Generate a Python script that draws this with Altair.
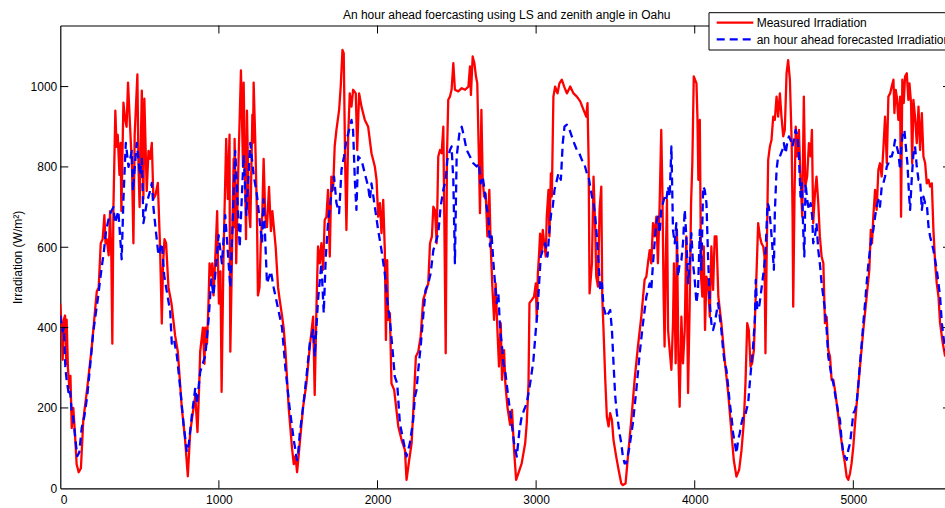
import altair as alt
import pandas as pd

FONT = "Liberation Sans"

chart_title = "An hour ahead foercasting using LS and zenith angle in Oahu"
y_title = "Irradiation (W/m\u00b2)"
legend_labels = ["Measured Irradiation", "an hour ahead forecasted Irradiation"]

x_ticks = [0, 1000, 2000, 3000, 4000, 5000]
y_ticks = [0, 200, 400, 600, 800, 1000]

# measured irradiation (sample index, W/m^2)
measured_x = [
    0, 8, 15, 22, 30, 38, 40, 48, 57, 64, 72, 82, 92, 103, 116, 130, 145, 170, 198, 230,
    242, 255, 267, 278, 285, 293, 305, 314, 322, 328, 335, 347, 355, 362, 373, 380, 385, 398, 408, 418,
    427, 440, 452, 461, 469, 486, 493, 500, 514, 524, 530, 545, 556, 566, 577, 587, 600, 615, 629, 636,
    640, 648, 657, 667, 682, 701, 724, 741, 766, 785, 804, 819, 840, 851, 865, 876, 882, 899, 909, 914,
    925, 935, 941, 948, 958, 966, 979, 989, 994, 1000, 1010, 1017, 1029, 1046, 1056, 1067, 1069, 1072, 1093, 1096,
    1099, 1104, 1109, 1120, 1139, 1152, 1156, 1171, 1177, 1188, 1198, 1211, 1215, 1219, 1229, 1240, 1246, 1256, 1265, 1274,
    1282, 1292, 1303, 1316, 1328, 1337, 1358, 1373, 1383, 1398, 1408, 1420, 1440, 1461, 1472, 1482, 1493, 1507,
    1531, 1552, 1573, 1594, 1604, 1615, 1625, 1636, 1646, 1657, 1667, 1678, 1688, 1699, 1709, 1720, 1730, 1741, 1758, 1768,
    1779, 1787, 1796, 1804, 1815, 1825, 1836, 1846, 1863, 1872, 1884, 1899, 1920, 1941, 1962, 1983, 1994, 2004, 2015, 2025,
    2036, 2046, 2053, 2061, 2067, 2078, 2088, 2105, 2131, 2152, 2173, 2183, 2200, 2215, 2229, 2242, 2257, 2272, 2288, 2301,
    2320, 2331, 2343, 2352, 2362, 2373, 2383, 2394, 2404, 2415, 2421, 2430, 2438, 2446, 2457, 2467, 2478, 2488, 2509, 2531,
    2552, 2573, 2583, 2589, 2600, 2611, 2621, 2629, 2640, 2646, 2655, 2663, 2672, 2682, 2693, 2705, 2714, 2724, 2735, 2745,
    2756, 2766, 2777, 2785, 2798, 2806, 2819, 2836, 2848, 2861, 2874, 2888, 2909, 2931, 2941, 2952, 2958, 2973, 2987, 2998,
    3004, 3011, 3019, 3025, 3034, 3042, 3053, 3061, 3067, 3078, 3084, 3093, 3099, 3109, 3120, 3135, 3147, 3162, 3177, 3194,
    3215, 3236, 3257, 3278, 3299, 3316, 3324, 3331, 3337, 3352, 3362, 3373, 3379, 3390, 3400, 3411, 3417, 3425, 3436, 3446,
    3457, 3467, 3478, 3488, 3505, 3520, 3537, 3547, 3564, 3579, 3600, 3621, 3642, 3663, 3684, 3695, 3705, 3716, 3726, 3737,
    3747, 3758, 3768, 3779, 3789, 3796, 3804, 3810, 3817, 3825, 3832, 3842, 3853, 3863, 3869, 3880, 3888, 3897, 3905, 3916,
    3926, 3937, 3947, 3958, 3968, 3977, 3985, 3994, 4002, 4011, 4017, 4023, 4032, 4040, 4048, 4057, 4065, 4074, 4084, 4095,
    4105, 4116, 4126, 4137, 4149, 4168, 4189, 4211, 4232, 4246, 4263, 4280, 4295, 4309, 4320, 4331, 4341, 4352, 4362, 4373,
    4381, 4389, 4400, 4411, 4421, 4432, 4440, 4446, 4453, 4459, 4463, 4474, 4484, 4495, 4505, 4516, 4526, 4537, 4547, 4558,
    4568, 4579, 4589, 4600, 4611, 4617, 4621, 4629, 4637, 4646, 4657, 4667, 4678, 4688, 4697, 4709, 4720, 4731, 4739, 4747,
    4758, 4768, 4779, 4789, 4800, 4811, 4821, 4832, 4842, 4853, 4863, 4874, 4884, 4895, 4916, 4933, 4947, 4958, 4968, 4979,
    4989, 5000, 5011, 5025, 5042, 5063, 5084, 5101, 5110, 5118, 5126, 5137, 5147, 5158, 5168, 5179, 5189, 5200, 5211, 5221,
    5232, 5242, 5253, 5259, 5267, 5274, 5284, 5295, 5301, 5309, 5318, 5326, 5337, 5347, 5354, 5364, 5371, 5379, 5389, 5400,
    5411, 5421, 5432, 5442, 5453, 5463, 5474, 5484, 5495, 5505, 5516, 5526, 5537, 5547, 5564, 5579,
]
measured_y = [
    460, 400, 320, 420, 430, 310, 420, 300, 250, 280, 150, 200, 140, 60, 40, 50, 170, 250, 350, 490,
    500, 610, 620, 680, 610, 620, 580, 690, 570, 360, 700, 940, 850, 880, 780, 860, 690, 960, 920, 900,
    1010, 900, 800, 610, 880, 1030, 800, 700, 990, 720, 970, 740, 840, 820, 860, 720, 730, 760, 600, 480,
    410, 560, 620, 610, 500, 460, 380, 340, 200, 130, 30, 140, 200, 230, 140, 260, 340, 400, 310, 400,
    360, 470, 560, 530, 560, 480, 590, 690, 570, 460, 540, 240, 580, 870, 720, 880, 580, 340, 820, 650,
    870, 760, 560, 760, 1040, 800, 1010, 620, 940, 700, 650, 930, 860, 1010, 870, 680, 480, 500, 620, 690,
    820, 680, 650, 750, 640, 690, 600, 500, 470, 430, 400, 340, 200, 100, 60, 80, 40, 100,
    203, 261, 353, 427, 232, 452, 602, 560, 610, 544, 668, 676, 743, 577, 776, 743, 851, 892, 942, 1000,
    1091, 1083, 809, 643, 876, 983, 950, 992, 983, 842, 983, 950, 917, 900, 834, 801, 768, 676, 710, 635,
    718, 593, 369, 568, 419, 436, 261, 245, 154, 120, 95, 21, 71, 112, 220, 328, 340, 378, 469, 486,
    510, 610, 627, 701, 693, 610, 826, 842, 834, 900, 676, 336, 826, 967, 975, 992, 1058, 992, 988, 996,
    992, 1000, 1050, 979, 1075, 1058, 1025, 1008, 809, 685, 942, 768, 726, 734, 627, 743, 602, 502, 419, 510,
    394, 303, 411, 270, 344, 261, 203, 158, 195, 95, 21, 37, 62, 112, 162, 261, 461, 469, 477, 510,
    419, 535, 585, 634, 585, 643, 602, 577, 676, 743, 627, 784, 726, 975, 1000, 983, 1008, 1017, 1000, 983,
    1000, 983, 975, 963, 942, 925, 959, 817, 485, 560, 776, 643, 527, 502, 693, 751, 477, 394, 270, 178,
    154, 187, 170, 120, 79, 46, 12, 8, 12, 79, 170, 270, 353, 427, 519, 527, 560, 593, 560, 660,
    627, 676, 560, 710, 892, 743, 477, 353, 560, 718, 394, 344, 295, 411, 560, 311, 643, 328, 203, 427,
    311, 394, 627, 237, 452, 710, 809, 1025, 1017, 1008, 925, 768, 917, 527, 477, 602, 394, 527, 510, 427,
    602, 494, 627, 627, 477, 411, 319, 237, 137, 71, 29, 46, 95, 162, 261, 411, 394, 303, 311, 344,
    436, 527, 660, 627, 610, 602, 577, 336, 560, 710, 817, 851, 867, 925, 917, 975, 925, 983, 925, 876,
    892, 1033, 1066, 1017, 867, 676, 452, 726, 900, 826, 892, 768, 676, 975, 751, 776, 859, 826, 892, 660,
    734, 776, 710, 627, 577, 560, 411, 427, 344, 328, 270, 270, 245, 212, 145, 95, 62, 29, 21, 37,
    62, 104, 162, 228, 303, 394, 477, 544, 643, 610, 676, 743, 693, 793, 809, 776, 842, 925, 809, 975,
    983, 1000, 1017, 934, 992, 975, 917, 975, 676, 1017, 959, 1025, 1033, 967, 1008, 959, 809, 967, 925, 859,
    950, 842, 934, 826, 809, 759, 768, 751, 759, 643, 560, 510, 477, 411, 361, 328,
]

# an hour ahead forecast (sample index, W/m^2)
forecast_x = [
    0, 15, 22, 32, 40, 55, 62, 72, 80, 93, 107, 120, 135, 152, 170, 187, 208, 236, 261, 275,
    288, 310, 335, 345, 366, 387, 398, 413, 430, 451, 458, 482, 503, 514, 524, 545, 566, 577, 587, 608,
    619, 640, 655, 667, 693, 703, 717, 735, 756, 777, 798, 810, 829, 851, 861, 882, 914, 935, 952, 966,
    998, 1019, 1040, 1072, 1103, 1131, 1156, 1173, 1198, 1219, 1240, 1272, 1282, 1303, 1328, 1345, 1377, 1398, 1419, 1446,
    1472, 1493, 1500,
    1510, 1531, 1552, 1573, 1594, 1604, 1625, 1646, 1661, 1674, 1688, 1709, 1726, 1741, 1758, 1773, 1789, 1804, 1821, 1836,
    1846, 1857, 1867, 1878, 1899, 1920, 1941, 1952, 1962, 1983, 2004, 2025, 2046, 2061, 2078, 2095, 2109, 2124, 2141, 2162,
    2183, 2204, 2225, 2236, 2246, 2257, 2272, 2288, 2303, 2320, 2335, 2352, 2366, 2383, 2398, 2415, 2430, 2440, 2457, 2467,
    2478, 2488, 2499, 2516, 2531, 2545, 2562, 2583, 2604, 2625, 2640, 2650, 2663, 2672, 2684, 2699, 2709, 2720, 2731, 2741,
    2752, 2762, 2773, 2783, 2794, 2804, 2819, 2832, 2846, 2861, 2878, 2895, 2909, 2924, 2941, 2952, 2966, 2983, 2998, 3008,
    3019, 3029, 3042, 3057, 3072, 3084, 3095, 3105, 3116, 3126, 3141, 3156, 3168, 3179, 3194, 3211, 3225, 3240, 3257, 3272,
    3289, 3303, 3320, 3331, 3341, 3352, 3362, 3373, 3383, 3394, 3404, 3415, 3425, 3442, 3457, 3467, 3478, 3488, 3499, 3509,
    3526, 3537, 3547, 3558, 3568, 3589, 3610, 3632, 3653, 3674, 3695, 3716, 3726, 3737, 3747, 3758, 3768, 3779, 3789, 3800,
    3811, 3821, 3832, 3842, 3853, 3863, 3874, 3884, 3895, 3905, 3916, 3926, 3937, 3947, 3958, 3968, 3979, 3989, 4000, 4011,
    4021, 4032, 4042, 4053, 4063, 4074, 4084, 4095, 4105, 4116, 4126, 4137, 4147, 4158, 4168, 4179, 4189, 4200, 4211, 4221,
    4232, 4242, 4253, 4263, 4274, 4284, 4295, 4305, 4316, 4326, 4337, 4347, 4358, 4368, 4379, 4385, 4394, 4406, 4415, 4425,
    4436, 4446, 4453, 4459, 4467, 4478, 4488, 4499, 4505, 4516, 4526, 4537, 4552, 4562, 4573, 4583, 4594, 4604, 4617, 4625,
    4636, 4648, 4657, 4667, 4676, 4684, 4691, 4699, 4709, 4720, 4731, 4741, 4747, 4758, 4768, 4779, 4789, 4800, 4811, 4821,
    4832, 4842, 4853, 4863, 4874, 4884, 4895, 4905, 4916, 4926, 4937, 4947, 4958, 4968, 4979, 4989, 5000, 5011, 5021, 5032,
    5042, 5053, 5063, 5074, 5084, 5095, 5105, 5116, 5126, 5137, 5147, 5158, 5168, 5179, 5189, 5200, 5211, 5221, 5232, 5242,
    5253, 5263, 5274, 5284, 5295, 5301, 5312, 5322, 5333, 5341, 5352, 5358, 5368, 5379, 5389, 5400, 5411, 5421, 5432, 5442,
    5453, 5463, 5474, 5484, 5495, 5505, 5516, 5526, 5537, 5547, 5558, 5568, 5579,
]
forecast_y = [
    430, 390, 400, 300, 270, 230, 240, 190, 180, 130, 80, 90, 150, 180, 230, 300, 390, 470, 550, 590,
    640, 680, 700, 660, 690, 570, 720, 860, 800, 840, 740, 860, 780, 820, 660, 710, 740, 760, 700, 620,
    580, 610, 530, 500, 440, 360, 370, 330, 250, 160, 90, 110, 180, 250, 210, 290, 330, 420, 520, 480,
    630, 560, 680, 500, 840, 600, 830, 680, 860, 780, 730, 610, 720, 510, 540, 500, 440, 400, 300, 200,
    120, 70, 90,
    137, 203, 278, 361, 394, 328, 469, 560, 436, 577, 660, 734, 776, 710, 685, 793, 826, 867, 892, 917,
    892, 768, 693, 826, 817, 784, 751, 718, 759, 701, 643, 593, 535, 469, 419, 344, 278, 261, 162, 120,
    79, 112, 170, 228, 245, 295, 353, 427, 494, 510, 535, 593, 610, 635, 701, 743, 768, 817, 842, 851,
    768, 560, 826, 883, 900, 876, 842, 826, 809, 801, 809, 759, 776, 751, 710, 676, 602, 627, 560, 510,
    461, 485, 394, 361, 311, 295, 245, 203, 162, 112, 79, 145, 178, 195, 212, 237, 270, 319, 394, 436,
    510, 577, 593, 610, 577, 643, 685, 701, 743, 759, 784, 768, 859, 900, 905, 892, 876, 859, 842, 834,
    817, 809, 784, 776, 751, 726, 710, 676, 627, 560, 494, 510, 452, 427, 436, 444, 394, 311, 228, 187,
    137, 112, 79, 62, 62, 104, 162, 245, 336, 411, 477, 510, 494, 560, 610, 660, 676, 635, 693, 710,
    726, 718, 751, 726, 851, 643, 610, 660, 527, 560, 568, 610, 693, 627, 510, 560, 635, 560, 519, 461,
    494, 643, 544, 751, 743, 710, 577, 461, 411, 394, 411, 436, 461, 427, 394, 344, 311, 295, 253, 212,
    178, 137, 112, 87, 120, 137, 162, 178, 178, 195, 212, 261, 311, 353, 419, 519, 444, 452, 477, 510,
    544, 585, 650, 710, 701, 660, 610, 544, 685, 793, 826, 826, 842, 859, 834, 859, 876, 867, 851, 867,
    892, 876, 826, 726, 759, 643, 577, 759, 718, 693, 710, 676, 610, 627, 660, 593, 560, 510, 477, 444,
    394, 328, 303, 278, 261, 237, 212, 187, 170, 120, 87, 79, 71, 95, 112, 145, 187, 195, 212, 261,
    311, 361, 411, 461, 510, 560, 593, 627, 643, 676, 701, 718, 701, 751, 759, 776, 801, 809, 826, 826,
    842, 867, 851, 834, 793, 842, 884, 892, 842, 809, 726, 693, 768, 834, 851, 801, 768, 768, 693, 726,
    710, 710, 651, 627, 610, 593, 568, 544, 510, 477, 411, 378, 344,
]

# plot-area geometry (pixels) and axis ranges
W, H = 884.7, 462.8
X_MAX, Y_MAX = 5578, 1152

x_scale = alt.Scale(domain=[0, X_MAX], nice=False, zero=False)
y_scale = alt.Scale(domain=[0, Y_MAX], nice=False, zero=False)

measured = pd.DataFrame({"t": measured_x, "v": measured_y})
forecast = pd.DataFrame({"t": forecast_x, "v": forecast_y})
xt = pd.DataFrame({"t": x_ticks[1:]})
yt = pd.DataFrame({"v": y_ticks[1:]})
one = pd.DataFrame({"k": [0]})
legend_df = pd.DataFrame({"label": legend_labels, "row": [0, 1]})

axis_style = dict(
    labelFont=FONT, labelFontSize=12, labelColor="black", format="d",
    domainColor="black", domainWidth=1.2, ticks=False, tickSize=0, grid=False,
)

measured_line = alt.Chart(measured).mark_line(
    color="#ff0000", strokeWidth=2.3, clip=True, strokeJoin="round"
).encode(
    x=alt.X("t:Q", scale=x_scale,
            axis=alt.Axis(values=x_ticks, title=None, labelPadding=6, **axis_style)),
    y=alt.Y("v:Q", scale=y_scale,
            axis=alt.Axis(values=y_ticks, title=y_title, orient="left", labelPadding=3.5,
                          titleFont=FONT, titleFontSize=12, titleFontWeight="normal",
                          titleColor="black", titlePadding=6, **axis_style)),
)

forecast_line = alt.Chart(forecast).mark_line(
    color="#0000ff", strokeWidth=2.3, strokeDash=[8, 5], clip=True, strokeJoin="round"
).encode(
    x=alt.X("t:Q", scale=x_scale, axis=None),
    y=alt.Y("v:Q", scale=y_scale, axis=None),
)

# inward tick marks on all four sides; the top layer also carries the top frame line
top_ticks = alt.Chart(xt).mark_rule(color="black", strokeWidth=1).encode(
    x=alt.X("t:Q", scale=x_scale,
            axis=alt.Axis(orient="top", labels=False, ticks=False, grid=False, title=None,
                          domainColor="black", domainWidth=1.2)),
    y=alt.value(0), y2=alt.value(8),
)
bottom_ticks = alt.Chart(xt).mark_rule(color="black", strokeWidth=1).encode(
    x=alt.X("t:Q", scale=x_scale, axis=None),
    y=alt.value(H), y2=alt.value(H - 8),
)
left_ticks = alt.Chart(yt).mark_rule(color="black", strokeWidth=1).encode(
    y=alt.Y("v:Q", scale=y_scale, axis=None),
    x=alt.value(0), x2=alt.value(8),
)
right_ticks = alt.Chart(yt).mark_rule(color="black", strokeWidth=1).encode(
    y=alt.Y("v:Q", scale=y_scale, axis=None),
    x=alt.value(W - 2), x2=alt.value(W + 6),
)

# chart title
title_text = alt.Chart(one).mark_text(
    text=chart_title, font=FONT, fontSize=12, color="black",
    align="center", baseline="alphabetic",
).encode(x=alt.value(446.4), y=alt.value(-6.2))

# legend box with line samples and labels
legend_box = alt.Chart(one).mark_rect(
    fill="white", stroke="black", strokeWidth=1
).encode(x=alt.value(648.7), x2=alt.value(1100), y=alt.value(-12.8), y2=alt.value(24.5))

legend_red = alt.Chart(one).mark_rule(color="#ff0000", strokeWidth=2.3).encode(
    x=alt.value(656.4), x2=alt.value(693), y=alt.value(-2.8)
)
legend_blue = alt.Chart(one).mark_rule(
    color="#0000ff", strokeWidth=2.3, strokeDash=[8, 5]
).encode(x=alt.value(656.4), x2=alt.value(693), y=alt.value(13.8))

legend_text_style = dict(font=FONT, fontSize=12, color="black", align="left", baseline="middle")
legend_text_1 = alt.Chart(legend_df).transform_filter("datum.row == 0").mark_text(
    **legend_text_style
).encode(text="label:N", x=alt.value(696.4), y=alt.value(-2.7))
legend_text_2 = alt.Chart(legend_df).transform_filter("datum.row == 1").mark_text(
    **legend_text_style
).encode(text="label:N", x=alt.value(696.4), y=alt.value(14))

chart = alt.layer(
    measured_line, forecast_line,
    top_ticks, bottom_ticks, left_ticks, right_ticks,
    title_text, legend_box, legend_red, legend_blue, legend_text_1, legend_text_2,
).resolve_axis(x="independent", y="independent").resolve_scale(y="independent").properties(
    width=W, height=H,
    autosize=alt.AutoSizeParams(type="none"),
    padding={"left": 60.3, "top": 25.5, "right": 0, "bottom": 19.7},
).configure_view(strokeWidth=0)

chart.save("out.html", embed_options={"renderer": "svg", "actions": False})
